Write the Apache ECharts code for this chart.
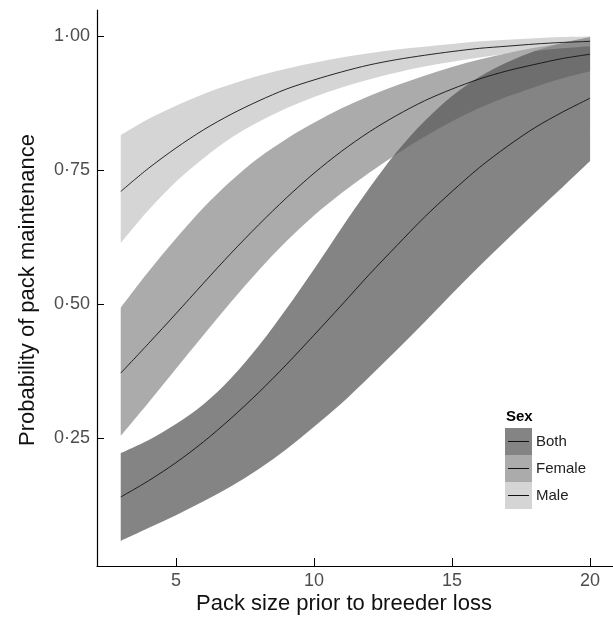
<!DOCTYPE html>
<html>
<head>
<meta charset="utf-8">
<script src="https://cdn.jsdelivr.net/npm/echarts@6/dist/echarts.min.js"></script>
<style>
html,body{margin:0;padding:0;background:#fff;}
#chart{width:613px;height:621px;}
</style>
</head>
<body>
<div id="chart"></div>
<script>
// Pack size prior to breeder loss
const packSize = [3,4,5,6,7,8,9,10,11,12,13,14,15,16,17,18,19,20];

// Both
const bothMean  = [0.140,0.170,0.204,0.243,0.287,0.335,0.387,0.442,0.498,0.555,0.609,0.662,0.710,0.755,0.794,0.829,0.858,0.884];
const bothLower = [0.058,0.082,0.106,0.132,0.160,0.192,0.229,0.271,0.315,0.364,0.414,0.466,0.519,0.571,0.621,0.670,0.718,0.767];
const bothUpper = [0.222,0.246,0.276,0.313,0.362,0.422,0.491,0.565,0.642,0.716,0.784,0.841,0.888,0.924,0.951,0.972,0.987,0.998];

// Female
const femaleMean  = [0.371,0.426,0.482,0.539,0.595,0.648,0.698,0.744,0.785,0.821,0.852,0.879,0.901,0.920,0.935,0.947,0.958,0.966];
const femaleLower = [0.254,0.316,0.379,0.442,0.504,0.563,0.617,0.665,0.707,0.745,0.780,0.812,0.841,0.866,0.887,0.905,0.921,0.934];
const femaleUpper = [0.493,0.560,0.622,0.680,0.730,0.773,0.808,0.838,0.865,0.888,0.908,0.926,0.942,0.956,0.968,0.978,0.986,0.993];

// Male
const maleMean  = [0.710,0.753,0.791,0.825,0.854,0.879,0.901,0.918,0.933,0.946,0.956,0.964,0.971,0.977,0.981,0.985,0.988,0.990];
const maleLower = [0.614,0.675,0.728,0.772,0.810,0.840,0.865,0.886,0.904,0.919,0.932,0.943,0.952,0.960,0.967,0.972,0.977,0.981];
const maleUpper = [0.815,0.845,0.870,0.892,0.910,0.926,0.939,0.950,0.960,0.968,0.975,0.980,0.985,0.990,0.993,0.996,0.998,0.999];

const xTicks = [5,10,15,20];
const yTicks = [0.25,0.50,0.75,1.00];
const groups = ['Both','Female','Male'];

const fills = {Both:'rgb(10,10,10)', Female:'rgb(87,87,87)', Male:'rgb(171,171,171)'};
const fillAlpha = 0.5;

// Catmull-Rom -> cubic bezier path through screen points
function curvePath(pts, start){
  let d = start ? 'M' + pts[0][0] + ' ' + pts[0][1] : 'L' + pts[0][0] + ' ' + pts[0][1];
  for (let i = 0; i < pts.length - 1; i++){
    const p0 = pts[Math.max(0, i-1)], p1 = pts[i], p2 = pts[i+1], p3 = pts[Math.min(pts.length-1, i+2)];
    const c1x = p1[0] + (p2[0]-p0[0])/6, c1y = p1[1] + (p2[1]-p0[1])/6;
    const c2x = p2[0] - (p3[0]-p1[0])/6, c2y = p2[1] - (p3[1]-p1[1])/6;
    d += ' C' + c1x + ' ' + c1y + ' ' + c2x + ' ' + c2y + ' ' + p2[0] + ' ' + p2[1];
  }
  return d;
}

function bandSeries(name, lower, upper){
  return {
    type:'custom', name:name+'_band', silent:true, z:1,
    data:[[packSize[0], lower[0]]],
    encode:{x:0, y:1},
    renderItem:function(params, api){
      const up = packSize.map((x,i)=>api.coord([x, upper[i]]));
      const lo = packSize.map((x,i)=>api.coord([x, lower[i]])).reverse();
      const d = curvePath(up, true) + ' ' + curvePath(lo, false) + ' Z';
      return {type:'path', shape:{pathData:d}, style:{fill:fills[name], opacity:fillAlpha}};
    }
  };
}
function meanSeries(name, mean){
  return {type:'line', name:name, data:packSize.map((x,i)=>[x, mean[i]]), symbol:'none', smooth:0.3,
    lineStyle:{color:'#111', width:0.9}, silent:true, z:5};
}

const series = [
  bandSeries('Both', bothLower, bothUpper),
  bandSeries('Female', femaleLower, femaleUpper),
  bandSeries('Male', maleLower, maleUpper),
  meanSeries('Both', bothMean),
  meanSeries('Female', femaleMean),
  meanSeries('Male', maleMean)
];

const chart = echarts.init(document.getElementById('chart'), null, {renderer:'canvas'});
const fmt = v => Number(v).toFixed(2).replace('.', '\u00B7');

// legend graphics
const legX = 505, legY = 428, keyW = 27, keyH = 27;
const legendEls = [
  {type:'text', z:100, x:legX+1, y:legY-11, style:{text:'Sex', font:'bold 15px "Liberation Sans", Arial, sans-serif', fill:'#000', verticalAlign:'middle'}}
];
groups.forEach((g,i)=>{
  const y0 = legY + i*keyH;
  legendEls.push({type:'rect', z:100, shape:{x:legX, y:y0, width:keyW, height:keyH}, style:{fill:fills[g], opacity:fillAlpha}});
  legendEls.push({type:'line', z:101, shape:{x1:legX+3, y1:y0+keyH/2, x2:legX+keyW-3, y2:y0+keyH/2}, style:{stroke:'#111', lineWidth:1}});
  legendEls.push({type:'text', z:101, x:legX+keyW+4, y:y0+keyH/2, style:{text:g, font:'15px "Liberation Sans", Arial, sans-serif', fill:'#222', verticalAlign:'middle', align:'left'}});
});

chart.setOption({
  animation:false,
  backgroundColor:'#fff',
  grid:{left:97, right:0, top:10, bottom:55, containLabel:false},
  xAxis:{type:'value', min:2.14, max:20.83,
    axisLine:{show:true, lineStyle:{color:'#000', width:1.2}},
    axisTick:{show:true, inside:true, length:8, customValues:xTicks, lineStyle:{color:'#000', width:1}},
    axisLabel:{customValues:xTicks, margin:6, color:'#4d4d4d', fontSize:18, fontFamily:'"Liberation Sans", Arial, sans-serif'},
    splitLine:{show:false}},
  yAxis:{type:'value', min:0.0112, max:1.0485,
    axisLine:{show:true, lineStyle:{color:'#000', width:1.2}},
    axisTick:{show:true, inside:true, length:7, customValues:yTicks, lineStyle:{color:'#000', width:1}},
    axisLabel:{customValues:yTicks, margin:7, formatter:fmt, color:'#4d4d4d', fontSize:18, fontFamily:'"Liberation Sans", Arial, sans-serif'},
    splitLine:{show:false}},
  series:series,
  graphic:[
    {type:'text', x:344, y:604, style:{text:'Pack size prior to breeder loss', font:'22px "Liberation Sans", Arial, sans-serif', fill:'#111', align:'center', verticalAlign:'middle'}},
    {type:'text', x:28, y:290, rotation:Math.PI/2, style:{text:'Probability of pack maintenance', font:'22px "Liberation Sans", Arial, sans-serif', fill:'#111', align:'center', verticalAlign:'middle'}},
    ...legendEls
  ]
});
</script>
</body>
</html>
